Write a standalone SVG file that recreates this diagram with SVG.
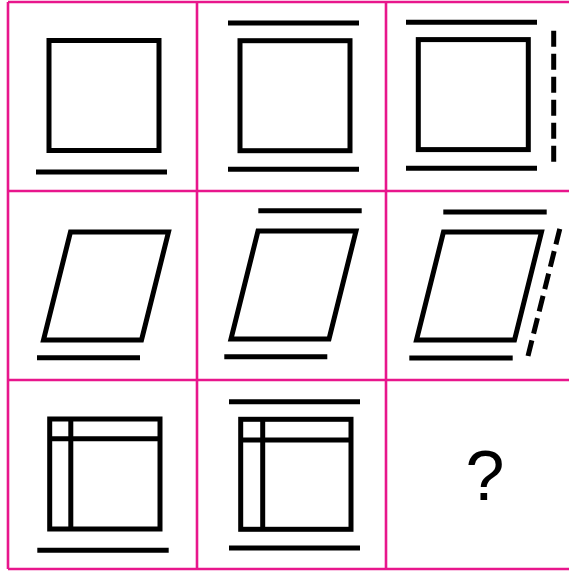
<svg xmlns="http://www.w3.org/2000/svg" width="569" height="574" viewBox="0 0 569 574">
<style>
.grid{fill:none;stroke:#e8168c;stroke-width:2.6}
.s{fill:none;stroke:#000;stroke-width:5;stroke-linejoin:miter;stroke-miterlimit:10}
.l{stroke:#000;stroke-width:5;stroke-linecap:butt}
.d{stroke:#000;stroke-width:5;stroke-dasharray:16 7;fill:none}
.q{font-family:"Liberation Sans",Arial,sans-serif;font-size:70px;fill:#000;text-anchor:middle}
</style>
<rect width="569" height="574" fill="#fff"/>
<g id="grid" class="grid">
<line x1="8" y1="2" x2="575" y2="2"/>
<line x1="8" y1="191" x2="575" y2="191"/>
<line x1="8" y1="380" x2="575" y2="380"/>
<line x1="8" y1="569" x2="575" y2="569"/>
<line x1="8" y1="2" x2="8" y2="569"/>
<line x1="197" y1="2" x2="197" y2="569"/>
<line x1="386" y1="2" x2="386" y2="569"/>
<line x1="575" y1="2" x2="575" y2="569"/>
</g>
<g id="cell-1-1">
<rect class="s" x="49" y="40.5" width="110" height="110"/>
<line class="l" x1="36" y1="172" x2="167" y2="172"/>
</g>
<g id="cell-1-2">
<line class="l" x1="228" y1="23" x2="359" y2="23"/>
<rect class="s" x="240" y="40.7" width="110" height="110"/>
<line class="l" x1="228" y1="169.3" x2="359" y2="169.3"/>
</g>
<g id="cell-1-3">
<line class="l" x1="406" y1="22.3" x2="537" y2="22.3"/>
<rect class="s" x="418.3" y="39.6" width="110" height="110"/>
<line class="l" x1="406" y1="168.3" x2="537" y2="168.3"/>
<line class="d" x1="553.7" y1="30.7" x2="553.7" y2="161.7"/>
</g>
<g id="cell-2-1">
<polygon class="s" points="70.5,232 168.5,232 141.5,340 43.5,340"/>
<line class="l" x1="37" y1="357.8" x2="140" y2="357.8"/>
</g>
<g id="cell-2-2">
<line class="l" x1="258.3" y1="210.7" x2="361.7" y2="210.7"/>
<polygon class="s" points="258,231 356,231 329,339 231,339"/>
<line class="l" x1="224.3" y1="356.7" x2="327.3" y2="356.7"/>
</g>
<g id="cell-2-3">
<line class="l" x1="443.3" y1="212" x2="546.7" y2="212"/>
<polygon class="s" points="443.5,232 541.5,232 514.5,340 416.5,340"/>
<line class="l" x1="409.3" y1="358" x2="512.7" y2="358"/>
<line class="d" x1="559.8" y1="228.9" x2="528" y2="356"/>
</g>
<g id="cell-3-1">
<rect class="s" x="49.7" y="419" width="110.3" height="110"/>
<line class="l" x1="70.8" y1="419" x2="70.8" y2="529"/>
<line class="l" x1="49.7" y1="438.8" x2="160" y2="438.8"/>
<line class="l" x1="37.3" y1="550.3" x2="168.7" y2="550.3"/>
</g>
<g id="cell-3-2">
<line class="l" x1="229" y1="401.7" x2="360" y2="401.7"/>
<rect class="s" x="240.7" y="419.3" width="110.3" height="110"/>
<line class="l" x1="262.7" y1="419.3" x2="262.7" y2="529.3"/>
<line class="l" x1="240.7" y1="440" x2="351" y2="440"/>
<line class="l" x1="229" y1="548" x2="360" y2="548"/>
</g>
<g id="cell-3-3">
<text class="q" x="485" y="500">?</text>
</g>
</svg>
